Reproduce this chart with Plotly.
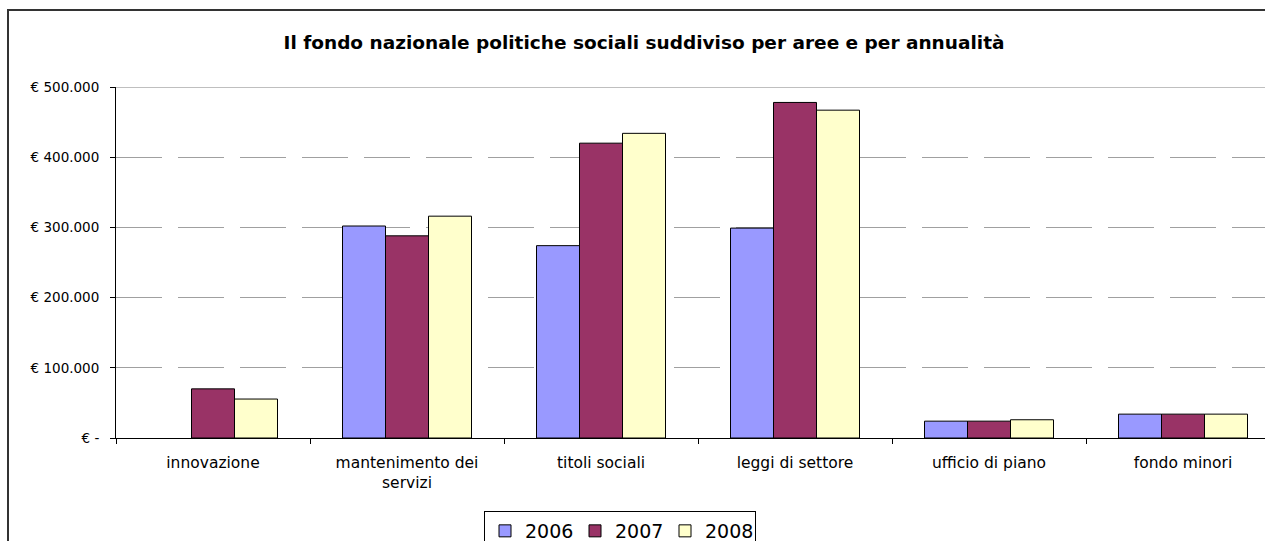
import plotly.graph_objects as go

categories = ["innovazione", "mantenimento dei<br>servizi", "titoli sociali",
              "leggi di settore", "ufficio di piano", "fondo minori"]
years = ["2006", "2007", "2008"]
v2006 = [None, 302000, 274000, 299000, 24000, 34000]
v2007 = [70000, 288000, 420000, 478000, 24000, 34000]
v2008 = [55500, 316000, 434000, 467000, 26000, 34000]
series = [v2006, v2007, v2008]
colors = ["#9999FF", "#993366", "#FFFFCC"]

tick_vals = [0, 100000, 200000, 300000, 400000, 500000]
tick_text = ["€ -", "€ 100.000", "€ 200.000", "€ 300.000", "€ 400.000", "€ 500.000"]

FONT = "DejaVu Sans, Verdana, sans-serif"

W, H = 1265, 541
L, T, B = 116, 87, 103
plot_w = W - L
plot_h = H - T - B
pitch = 194.0

fig = go.Figure()
for name, vals, col in zip(years, series, colors):
    fig.add_trace(go.Bar(
        x=categories, y=vals, name=name,
        marker=dict(color=col, line=dict(color="black", width=1)),
    ))

fig.update_layout(
    width=W, height=H,
    margin=dict(l=L, r=0, t=T, b=B, autoexpand=False),
    paper_bgcolor="white", plot_bgcolor="white",
    barmode="group", bargap=0.335, bargroupgap=0,
    font=dict(family=FONT, color="black"),
    title=dict(
        text="<b>Il fondo nazionale politiche sociali suddiviso per aree e per annualità</b>",
        font=dict(family=FONT, size=18.5, color="black"),
        x=644 / W, xref="container", xanchor="center",
        y=1 - 43 / H, yref="container", yanchor="middle",
    ),
    showlegend=True,
    legend=dict(
        orientation="h",
        x=(484 - L) / plot_w, xanchor="left",
        y=-(511 - (H - B)) / plot_h, yanchor="top",
        bordercolor="black", borderwidth=1, bgcolor="white",
        font=dict(family=FONT, size=19, color="black"),
        itemwidth=30,
        entrywidth=45, entrywidthmode="pixels",
    ),
    xaxis=dict(
        type="category",
        range=[-0.5, -0.5 + plot_w / pitch],
        showline=True, linecolor="black", linewidth=1,
        ticks="outside", ticklen=5, tickcolor="black", tickson="boundaries",
        showgrid=False,
        ticklabelstandoff=10,
        tickfont=dict(family=FONT, size=15.5, color="black"),
    ),
    yaxis=dict(
        range=[0, 500000],
        tickvals=tick_vals, ticktext=tick_text,
        showline=True, linecolor="black", linewidth=1,
        ticks="outside", ticklen=5, tickcolor="black",
        showgrid=True, gridcolor="#A0A0A0", gridwidth=1, griddash="46px,16px",
        zeroline=False,
        ticklabelstandoff=8,
        tickfont=dict(family=FONT, size=13.5, color="black"),
    ),
    shapes=[
        dict(type="line", xref="paper", yref="y", x0=0, x1=1, y0=500000, y1=500000,
             line=dict(color="#808080", width=1), layer="below"),
        dict(type="rect", xref="paper", yref="paper",
             x0=(8 - L) / plot_w, x1=1.05,
             y0=-0.5, y1=((H - B) - 10) / plot_h,
             line=dict(color="#333333", width=2), fillcolor="rgba(0,0,0,0)", layer="below"),
    ],
)

fig.write_html("out.html")
